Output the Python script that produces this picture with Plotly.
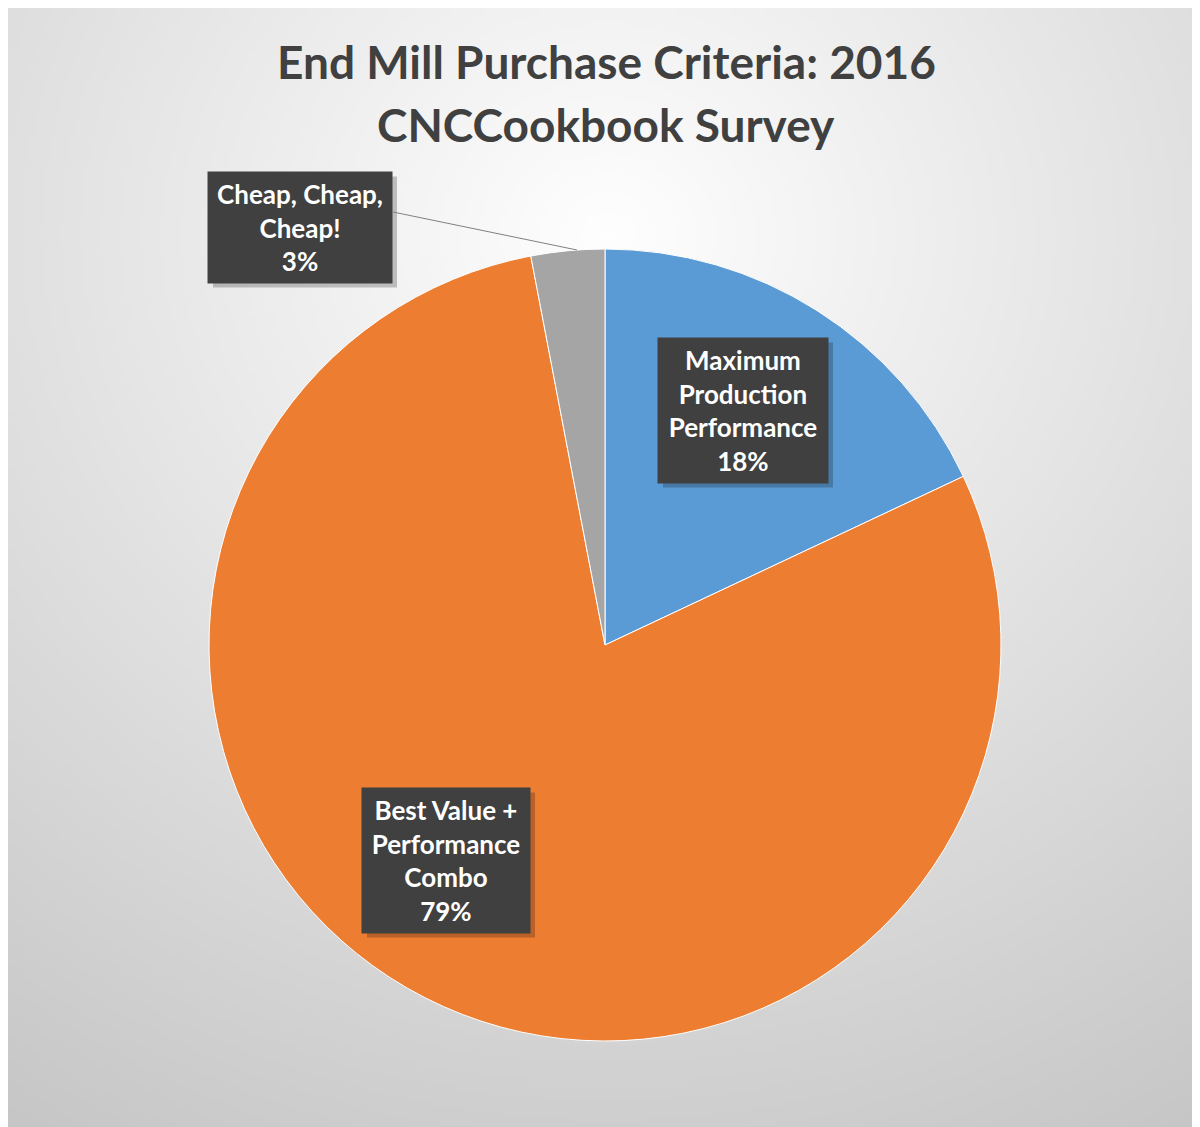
import base64, struct, zlib
import plotly.graph_objects as go

# ---- data ----
categories = ["Maximum Production Performance", "Best Value + Performance Combo", "Cheap, Cheap, Cheap!"]
label_text = ["Maximum<br>Production<br>Performance", "Best Value +<br>Performance<br>Combo", "Cheap, Cheap,<br>Cheap!"]
values = [18, 79, 3]
colors = ["#5B9BD5", "#ED7D31", "#A5A5A5"]

W, H = 1200, 1127
OFF = 8  # page body margin: reference pixel -> figure pixel


def px(x):
    return (x - OFF) / W


def py(y):
    return 1 - (y - OFF) / H


# ---- gradient background (generated PNG) ----
def make_png(w, h):
    cx, cy = 0.5, 0.2
    rows = []
    for j in range(h):
        row = bytearray([0])
        for i in range(w):
            dx = i / (w - 1) - cx
            dy = j / (h - 1) - cy
            d = (dx * dx + dy * dy) ** 0.5
            v = max(0, min(255, int(round(254 - 60 * d))))
            row.append(v)
        rows.append(bytes(row))
    raw = b"".join(rows)

    def chunk(t, data):
        c = struct.pack(">I", len(data)) + t + data
        return c + struct.pack(">I", zlib.crc32(t + data) & 0xffffffff)
    png = b"\x89PNG\r\n\x1a\n"
    png += chunk(b"IHDR", struct.pack(">IIBBBBB", w, h, 8, 0, 0, 0, 0))
    png += chunk(b"IDAT", zlib.compress(raw, 9))
    png += chunk(b"IEND", b"")
    return "data:image/png;base64," + base64.b64encode(png).decode()


bg_src = make_png(240, 224)

# ---- pie geometry (reference pixels) ----
pcx, pcy, R = 605, 645, 396
dom_x = [px(pcx - R), px(pcx + R)]
dom_y = [py(pcy + R), py(pcy - R)]

fig = go.Figure(go.Pie(
    labels=categories,
    values=values,
    marker=dict(colors=colors, line=dict(color="white", width=1)),
    sort=False,
    direction="clockwise",
    rotation=0,
    textinfo="none",
    hoverinfo="label+percent",
    domain=dict(x=dom_x, y=dom_y),
    showlegend=False,
))

# label boxes: (center x, center y, width, height) in reference pixels
boxes = [(743, 410, 170, 145), (446, 860, 168, 145), (300, 227, 184, 111)]
annotations = []
shapes = []
font_family = "Lato, 'Open Sans', sans-serif"
for txt, v, (bx, by, bw, bh) in zip(label_text, values, boxes):
    shapes.append(dict(
        type="rect", xref="paper", yref="paper", layer="above",
        x0=px(bx - bw / 2 + 5), x1=px(bx + bw / 2 + 5),
        y0=py(by + bh / 2 + 5), y1=py(by - bh / 2 + 5),
        fillcolor="rgba(0,0,0,0.22)", line=dict(width=0),
    ))
    annotations.append(dict(
        text=f"<b>{txt}<br>{v}%</b>", x=px(bx), y=py(by), xref="paper", yref="paper",
        xanchor="center", yanchor="middle", showarrow=False,
        width=bw - 6, height=bh - 6, borderpad=3,
        bgcolor="#404040", font=dict(color="white", size=26, family=font_family),
    ))

annotations.append(dict(
    text="<b>End Mill Purchase Criteria: 2016</b>", x=px(606), y=py(62),
    xref="paper", yref="paper", xanchor="center", yanchor="middle", showarrow=False,
    font=dict(size=46, color="#404040", family=font_family),
))
annotations.append(dict(
    text="<b>CNCCookbook Survey</b>", x=px(606), y=py(125),
    xref="paper", yref="paper", xanchor="center", yanchor="middle", showarrow=False,
    font=dict(size=46, color="#404040", family=font_family),
))

shapes.append(dict(type="line", xref="paper", yref="paper",
                   x0=px(393), y0=py(212), x1=px(577), y1=py(250),
                   line=dict(color="#808080", width=1)))

fig.update_layout(
    width=W, height=H,
    margin=dict(l=0, r=0, t=0, b=0),
    paper_bgcolor="white",
    plot_bgcolor="rgba(0,0,0,0)",
    images=[dict(source=bg_src, xref="paper", yref="paper", x=0, y=1,
                 sizex=1, sizey=1 - 2 / H, xanchor="left", yanchor="top",
                 sizing="stretch", layer="below")],
    annotations=annotations,
    shapes=shapes,
)

fig.write_html("out.html")
